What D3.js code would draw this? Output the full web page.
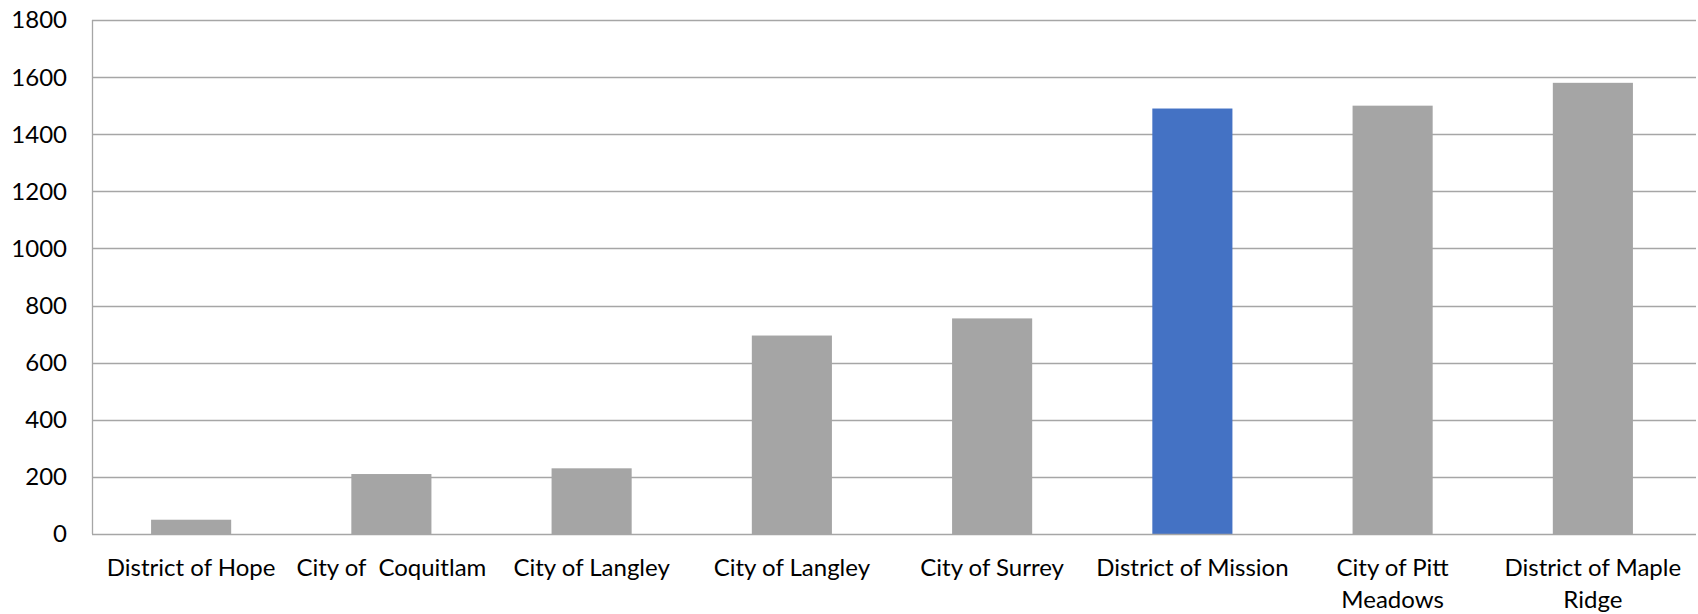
<!DOCTYPE html>
<html><head><meta charset="utf-8">
<script src="https://cdn.jsdelivr.net/npm/d3@7"></script>
<style>
body{margin:0;background:#fff;}
svg text{font-family:Lato,"Open Sans",sans-serif;fill:#000;}
</style></head>
<body><svg id="chart" width="1698" height="614"></svg>
<script>
const categories = ["District of Hope","City of  Coquitlam","City of Langley","City of Langley","City of Surrey","District of Mission","City of Pitt\nMeadows","District of Maple\nRidge"];
const values = [50,210,230,695,755,1490,1500,1580];
const highlight = [false,false,false,false,false,true,false,false];
const yTicks = [0,200,400,600,800,1000,1200,1400,1600,1800];

const svg = d3.select("#chart");
const m = {left:92, right:2, top:20, bottom:80};
const W = 1698, H = 614;
const x = d3.scaleBand().domain(d3.range(categories.length)).range([m.left - 1, W - m.right - 3]).paddingInner(0.6).paddingOuter(0.3);
const y = d3.scaleLinear().domain([0,1800]).range([534, m.top]);

// gridlines
svg.append("g").selectAll("line").data(yTicks.filter(d=>d>0)).join("line")
  .attr("x1", m.left).attr("x2", W - m.right)
  .attr("y1", d=>Math.round(y(d))+0.5).attr("y2", d=>Math.round(y(d))+0.5)
  .attr("stroke","#a6a6a6").attr("stroke-width",1.3);

// bars
svg.append("g").selectAll("rect").data(values).join("rect")
  .attr("x",(d,i)=>x(i)).attr("width",x.bandwidth())
  .attr("y",d=>y(d)).attr("height",d=>y(0)-y(d))
  .attr("fill",(d,i)=>highlight[i]?"#4472c4":"#a5a5a5");

// axes lines
svg.append("line").attr("x1",m.left+0.5).attr("x2",m.left+0.5).attr("y1",y(1800)).attr("y2",y(0))
  .attr("stroke","#a6a6a6").attr("stroke-width",1.3);
svg.append("line").attr("x1",m.left).attr("x2",W-m.right).attr("y1",Math.round(y(0))+0.5).attr("y2",Math.round(y(0))+0.5)
  .attr("stroke","#a6a6a6").attr("stroke-width",1.3);

// y labels
svg.append("g").selectAll("text").data(yTicks).join("text")
  .attr("x",67).attr("y",d=>y(d)).attr("dy","0.35em").attr("text-anchor","end")
  .attr("font-size",24).text(d=>d);

// x labels
const xl = svg.append("g").selectAll("text").data(categories).join("text")
  .attr("text-anchor","middle").attr("font-size",24)
  .attr("transform",(d,i)=>`translate(${x(i)+x.bandwidth()/2},576)`)
  .style("white-space","pre");
xl.selectAll("tspan").data(d=>d.split("\n")).join("tspan")
  .attr("x",0).attr("dy",(d,i)=>i===0?0:31.5).text(d=>d);
</script></body></html>
